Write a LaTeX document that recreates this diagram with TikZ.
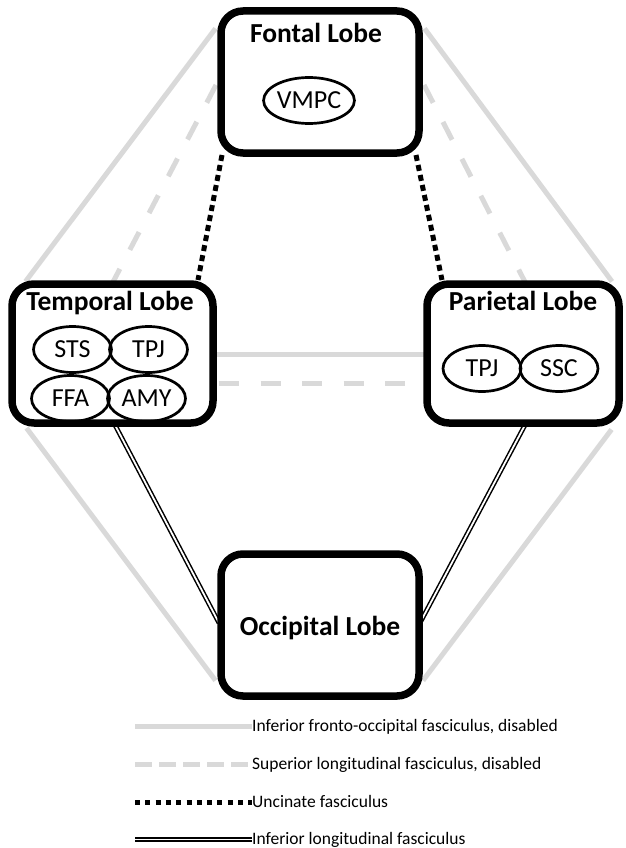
\documentclass[tikz,border=0pt]{standalone}
\usepackage{fontspec}
\setmainfont{Carlito}
\usetikzlibrary{shapes.geometric,calc}
\pgfdeclarelayer{background}
\pgfsetlayers{background,main}
\tikzset{
  lobe/.style={draw, line width=7.5pt, rounded corners=22pt, fill=white, inner sep=0pt},
  lobetitle/.style={font=\bfseries\fontsize{27.5}{30}\selectfont, inner sep=0pt, anchor=base},
  region/.style={draw, ellipse, line width=2.7pt, minimum width=78pt, minimum height=46pt, inner sep=0pt, font=\fontsize{26}{28}\selectfont},
  ifof/.style={draw=black!15, line width=5pt},
  slf/.style={draw=black!15, line width=5pt, dash pattern=on 20pt off 21.5pt},
  uf/.style={draw=black, line width=5pt, dash pattern=on 6pt off 4.2pt},
  ilf/.style={draw=black, double=white, line width=1.5pt, double distance=1.8pt},
  legslf/.style={draw=black!15, line width=5pt, dash pattern=on 17pt off 7pt},
  leguf/.style={draw=black, line width=5pt, dash pattern=on 5pt off 5.3pt},
  legtext/.style={font=\fontsize{17.5}{20}\selectfont, inner sep=0pt, anchor=base west}
}
\begin{document}
\begin{tikzpicture}[x=1pt,y=-1pt]
\useasboundingbox (0,0) rectangle (625,848);

% lobes
\node[lobe, minimum width=198pt, minimum height=142pt] (F) at (320,82) {};
\node[lobe, minimum width=201pt, minimum height=139pt] (T) at (112.5,353.5) {};
\node[lobe, minimum width=192pt, minimum height=139pt] (P) at (523,353.5) {};
\node[lobe, minimum width=198pt, minimum height=142pt] (O) at (320,625) {};

% titles
\node[lobetitle] (Ft) at (316,43) {Fontal Lobe};
\node[lobetitle] (Tt) at (110,310) {Temporal Lobe};
\node[lobetitle] (Pt) at (523,310) {Parietal Lobe};
\node[lobetitle] (Ot) at (320,635) {Occipital Lobe};

% regions
\node[region] (vmpc) at (309,100.5) {VMPC};
\node[region] (sts) at (72.5,349.5) {STS};
\node[region] (tpjT) at (148.5,349.5) {TPJ};
\node[region] (ffa) at (70.5,398.5) {FFA};
\node[region] (amy) at (146.5,398.5) {AMY};
\node[region] (tpjP) at (482,368.5) {TPJ};
\node[region] (ssc) at (559,368.5) {SSC};

% connector end points
\coordinate (a1) at (215.5,28.5);
\coordinate (a2) at (25.5,281.5);
\coordinate (b1) at (424.5,28.5);
\coordinate (b2) at (612,281.5);
\coordinate (c1) at (26.5,428);
\coordinate (c2) at (215.5,680.5);
\coordinate (d1) at (611.5,429.5);
\coordinate (d2) at (423,680.5);
\coordinate (e1) at (213,354);
\coordinate (e2) at (427,354);
\coordinate (f1) at (219,383);
\coordinate (f2) at (421,383);
\coordinate (g1) at (216,85);
\coordinate (g2) at (113,282);
\coordinate (h1) at (424,85);
\coordinate (h2) at (525,282);
\coordinate (u1) at (222,155);
\coordinate (u2) at (198,280);
\coordinate (v1) at (416,155);
\coordinate (v2) at (442,280);
\coordinate (i1) at (115,425);
\coordinate (i2) at (219,623);
\coordinate (j1) at (525,425);
\coordinate (j2) at (421,621);

\begin{pgfonlayer}{background}
  % inferior fronto-occipital (disabled)
  \draw[ifof] (a1) -- (a2);
  \draw[ifof] (b1) -- (b2);
  \draw[ifof] (c1) -- (c2);
  \draw[ifof] (d1) -- (d2);
  \draw[ifof] (e1) -- (e2);
  % superior longitudinal (disabled)
  \draw[slf] (g1) -- (g2);
  \draw[slf] (h1) -- (h2);
  \draw[slf] (f1) -- (f2);
  % uncinate
  \draw[uf] (u1) -- (u2);
  \draw[uf] (v1) -- (v2);
  % inferior longitudinal
  \draw[ilf] (i1) -- (i2);
  \draw[ilf] (j1) -- (j2);
\end{pgfonlayer}

% legend
\node[legtext] (L1) at (252,731) {Inferior fronto-occipital fasciculus, disabled};
\node[legtext] (L2) at (252,769) {Superior longitudinal fasciculus, disabled};
\node[legtext] (L3) at (252,807) {Uncinate fasciculus};
\node[legtext] (L4) at (252,844) {Inferior longitudinal fasciculus};
\coordinate (k1) at (135,726);
\coordinate (k2) at (135,764);
\coordinate (k3) at (135,802);
\coordinate (k4) at (135,839.5);
\draw[ifof] (k1) -- (k1 -| L1.west);
\draw[legslf] (k2) -- (k2 -| L2.west);
\draw[leguf] (k3) -- (k3 -| L3.west);
\draw[ilf] (k4) -- (k4 -| L4.west);
\end{tikzpicture}
\end{document}
